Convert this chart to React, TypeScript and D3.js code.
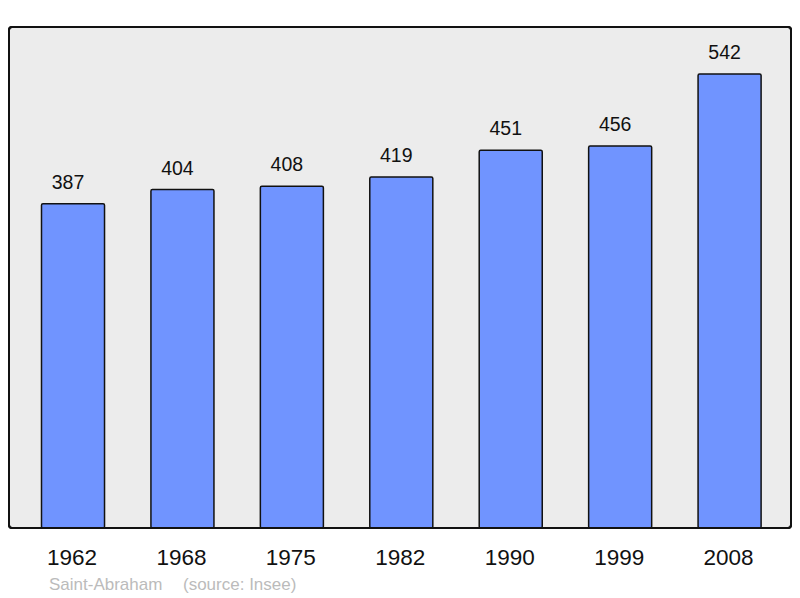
import React from "react";
import * as d3 from "d3";

const years = ["1962", "1968", "1975", "1982", "1990", "1999", "2008"];
const population = [387, 404, 408, 419, 451, 456, 542];
const placeName = "Saint-Abraham";
const sourceText = "(source: Insee)";

const W = 800;
const H = 598;
const frame = { x: 9, y: 27, w: 782, h: 501 };

export default function App() {
  const x = d3
    .scaleBand<string>()
    .domain(years)
    .range([18.3, 784.3])
    .paddingInner(0.424)
    .paddingOuter(0.212);
  const y = d3
    .scaleLinear()
    .domain([0, 598])
    .range([frame.y + frame.h, frame.y]);
  const font = "'Liberation Sans', Arial, sans-serif";
  return (
    <svg
      width={W}
      height={H}
      style={{ position: "absolute", left: 0, top: 0, display: "block" }}
    >
      <rect x={0} y={0} width={W} height={H} fill="#ffffff" />
      <rect
        x={frame.x}
        y={frame.y}
        width={frame.w}
        height={frame.h}
        rx={3}
        fill="#ececec"
        stroke="#111"
        strokeWidth={2}
      />
      {years.map((yr, i) => {
        const v = population[i];
        const bx = x(yr)!;
        const bw = x.bandwidth();
        const top = y(v);
        return (
          <g key={yr}>
            <rect
              x={bx}
              y={top}
              width={bw}
              height={y(0) - top}
              rx={1.5}
              fill="#7094ff"
              stroke="#111"
              strokeWidth={1.5}
            />
            <text
              x={bx + bw / 2 - 5}
              y={top - 15}
              textAnchor="middle"
              fontFamily={font}
              fontSize={19.5}
              fill="#111"
            >
              {v}
            </text>
            <text
              x={bx + bw / 2 - 1}
              y={565}
              textAnchor="middle"
              fontFamily={font}
              fontSize={22.5}
              fill="#111"
            >
              {yr}
            </text>
          </g>
        );
      })}
      <rect
        x={frame.x}
        y={frame.y}
        width={frame.w}
        height={frame.h}
        rx={3}
        fill="none"
        stroke="#111"
        strokeWidth={2}
      />
      <text x={49} y={590} fontFamily={font} fontSize={17} fill="#bbbbbb">
        {placeName}
      </text>
      <text x={183} y={590} fontFamily={font} fontSize={17} fill="#bbbbbb">
        {sourceText}
      </text>
    </svg>
  );
}
